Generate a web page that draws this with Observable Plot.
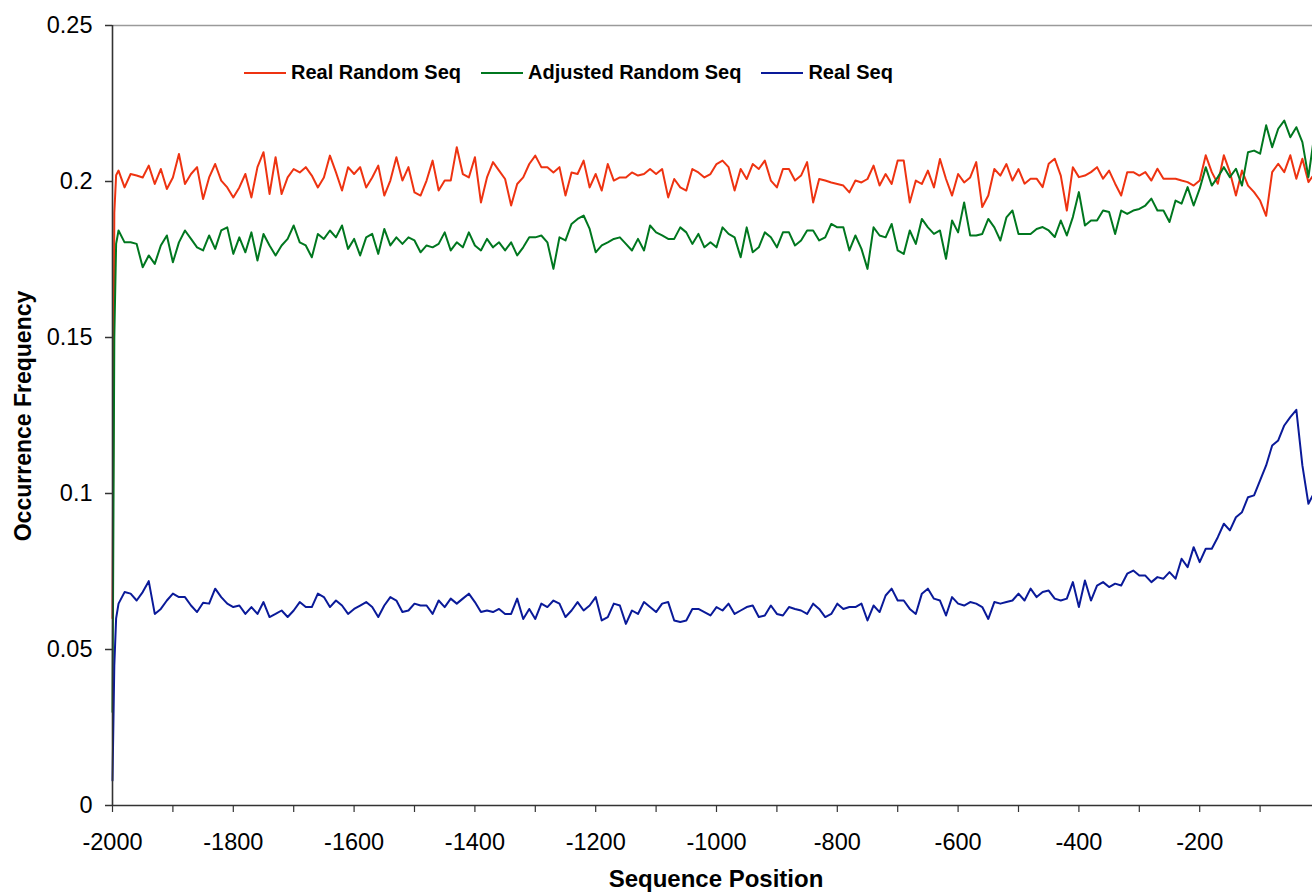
<!DOCTYPE html>
<html><head><meta charset="utf-8">
<script src="https://cdn.jsdelivr.net/npm/d3@7"></script>
<script src="https://cdn.jsdelivr.net/npm/@observablehq/plot@0.6"></script>
<style>
html,body{margin:0;padding:0;background:#fff;overflow:hidden;width:1312px;height:894px}
#wrap{position:relative;width:1312px;height:894px;overflow:hidden}
#wrap svg{position:absolute;left:0;top:0;max-width:none !important;width:1320px !important;height:894px !important}
#legend{position:absolute;left:244px;top:61px;display:flex;align-items:center;font:bold 20px "Liberation Sans",Arial,sans-serif;color:#000;white-space:nowrap}
.item{display:flex;align-items:center;margin-right:20px}
.swatch{width:42px;height:2px;margin-right:5px}
</style></head><body><div id="wrap"><div id="legend"></div></div>
<script>
const seriesNames = ["Real Random Seq", "Adjusted Random Seq", "Real Seq"];
const seriesColors = ["#EE3311", "#00771F", "#0A1A99"];

const xTicks = [-2000,-1900,-1800,-1700,-1600,-1500,-1400,-1300,-1200,-1100,-1000,-900,-800,-700,-600,-500,-400,-300,-200,-100];
const xTickLabels = ["-2000","","-1800","","-1600","","-1400","","-1200","","-1000","","-800","","-600","","-400","","-200",""];
const yTicks = [0, 0.05, 0.1, 0.15, 0.2, 0.25];
const yTickLabels = ["0", "0.05", "0.1", "0.15", "0.2", "0.25"];

// first few positions (steep start) and the regular grid from -1990 to 0 every 10
const startPositions = [-2000, -1997, -1994];
const gridPositions = d3.range(-1990, 1, 10);

const realRandomStart = [0.06, 0.19, 0.202];
const adjustedRandomStart = [0.03, 0.15, 0.18];
const realSeqStart = [0.008, 0.045, 0.060];

const realRandom = [
0.2035,0.1981,0.2024,0.2019,0.2013,0.2051,0.1992,0.2040,0.1976,0.2013,
0.2088,0.1992,0.2024,0.2046,0.1944,0.2013,0.2056,0.2003,0.1981,0.1949,
0.1981,0.2024,0.1949,0.2046,0.2094,0.1960,0.2078,0.1960,0.2013,0.2040,
0.2029,0.2046,0.2019,0.1981,0.2013,0.2083,0.2029,0.1971,0.2046,0.2024,
0.2046,0.1981,0.2013,0.2051,0.1955,0.2003,0.2078,0.2003,0.2046,0.1965,
0.1955,0.2003,0.2067,0.1971,0.2003,0.2003,0.2110,0.2024,0.2013,0.2078,
0.1933,0.2013,0.2062,0.2035,0.2008,0.1923,0.1992,0.2013,0.2056,0.2083,
0.2046,0.2046,0.2029,0.2046,0.1955,0.2029,0.2024,0.2067,0.1981,0.2024,
0.1971,0.2056,0.2003,0.2013,0.2013,0.2029,0.2019,0.2024,0.2040,0.2024,
0.2040,0.1949,0.2008,0.1981,0.1971,0.2040,0.2029,0.2013,0.2024,0.2056,
0.2067,0.2046,0.1971,0.2040,0.2008,0.2056,0.2040,0.2067,0.2003,0.1981,
0.2040,0.2040,0.2003,0.2019,0.2062,0.1933,0.2008,0.2003,0.1997,0.1992,
0.1987,0.1965,0.2003,0.1997,0.2008,0.2051,0.1987,0.2024,0.1992,0.2067,
0.2067,0.1933,0.2003,0.1992,0.2035,0.1981,0.2072,0.2008,0.1955,0.2024,
0.1997,0.2013,0.2062,0.1918,0.1955,0.2040,0.2019,0.2056,0.2003,0.2040,
0.1993,0.2009,0.2009,0.1982,0.2057,0.2073,0.2019,0.1907,0.2046,0.2014,
0.2019,0.2030,0.2046,0.2009,0.2035,0.1993,0.1955,0.2030,0.2030,0.2019,
0.2030,0.2003,0.2041,0.2009,0.2009,0.2009,0.2003,0.1998,0.1987,0.2003,
0.2084,0.2030,0.1993,0.2084,0.2030,0.1955,0.2035,0.1987,0.1966,0.1939,
0.1890,0.2030,0.2057,0.2030,0.2084,0.2009,0.2073,0.1998,0.2025,0.1960];

const adjustedRandom = [
0.1843,0.1805,0.1805,0.1800,0.1725,0.1763,0.1736,0.1795,0.1827,0.1741,
0.1805,0.1843,0.1816,0.1789,0.1779,0.1827,0.1784,0.1843,0.1853,0.1768,
0.1821,0.1773,0.1837,0.1747,0.1832,0.1795,0.1763,0.1795,0.1816,0.1859,
0.1805,0.1795,0.1757,0.1832,0.1816,0.1843,0.1821,0.1859,0.1784,0.1816,
0.1763,0.1821,0.1832,0.1768,0.1848,0.1795,0.1821,0.1800,0.1821,0.1811,
0.1773,0.1795,0.1789,0.1800,0.1837,0.1779,0.1805,0.1789,0.1837,0.1795,
0.1779,0.1816,0.1789,0.1805,0.1779,0.1805,0.1763,0.1789,0.1821,0.1821,
0.1827,0.1805,0.1720,0.1821,0.1811,0.1864,0.1880,0.1891,0.1848,0.1773,
0.1795,0.1805,0.1816,0.1821,0.1800,0.1779,0.1816,0.1779,0.1859,0.1837,
0.1827,0.1816,0.1816,0.1853,0.1837,0.1800,0.1832,0.1789,0.1805,0.1789,
0.1853,0.1832,0.1821,0.1757,0.1853,0.1773,0.1789,0.1837,0.1821,0.1789,
0.1837,0.1837,0.1795,0.1811,0.1843,0.1843,0.1811,0.1821,0.1864,0.1853,
0.1853,0.1779,0.1827,0.1784,0.1720,0.1853,0.1827,0.1821,0.1864,0.1779,
0.1768,0.1843,0.1800,0.1880,0.1853,0.1832,0.1843,0.1752,0.1875,0.1837,
0.1933,0.1827,0.1827,0.1832,0.1880,0.1853,0.1811,0.1885,0.1907,0.1832,
0.1832,0.1832,0.1848,0.1854,0.1843,0.1822,0.1875,0.1827,0.1886,0.1966,
0.1859,0.1875,0.1875,0.1907,0.1902,0.1832,0.1907,0.1896,0.1907,0.1912,
0.1923,0.1945,0.1907,0.1907,0.1870,0.1939,0.1929,0.1982,0.1923,0.1977,
0.2046,0.1987,0.2014,0.2046,0.2014,0.2041,0.1987,0.2094,0.2099,0.2089,
0.2180,0.2110,0.2169,0.2195,0.2142,0.2174,0.2126,0.2014,0.2153,0.2121];

const realSeq = [
0.0647,0.0684,0.0679,0.0657,0.0684,0.0719,0.0614,0.0630,0.0657,0.0679,
0.0668,0.0668,0.0641,0.0620,0.0650,0.0647,0.0695,0.0668,0.0647,0.0636,
0.0641,0.0614,0.0636,0.0614,0.0652,0.0604,0.0614,0.0625,0.0604,0.0625,
0.0652,0.0636,0.0636,0.0679,0.0668,0.0636,0.0657,0.0641,0.0614,0.0630,
0.0641,0.0652,0.0636,0.0604,0.0641,0.0668,0.0657,0.0620,0.0625,0.0647,
0.0641,0.0641,0.0614,0.0657,0.0636,0.0663,0.0647,0.0663,0.0679,0.0652,
0.0620,0.0625,0.0620,0.0630,0.0614,0.0614,0.0663,0.0598,0.0630,0.0598,
0.0647,0.0636,0.0657,0.0647,0.0604,0.0625,0.0652,0.0625,0.0641,0.0668,
0.0593,0.0604,0.0647,0.0641,0.0582,0.0625,0.0614,0.0652,0.0636,0.0620,
0.0647,0.0652,0.0593,0.0588,0.0593,0.0630,0.0630,0.0620,0.0609,0.0636,
0.0625,0.0647,0.0614,0.0625,0.0636,0.0641,0.0604,0.0609,0.0641,0.0614,
0.0609,0.0636,0.0630,0.0625,0.0614,0.0647,0.0630,0.0604,0.0614,0.0647,
0.0630,0.0636,0.0636,0.0647,0.0593,0.0641,0.0620,0.0673,0.0695,0.0657,
0.0657,0.0630,0.0614,0.0679,0.0695,0.0663,0.0657,0.0609,0.0668,0.0647,
0.0641,0.0652,0.0647,0.0636,0.0598,0.0652,0.0647,0.0652,0.0657,0.0679,
0.0657,0.0695,0.0668,0.0684,0.0689,0.0663,0.0657,0.0663,0.0716,0.0636,
0.0721,0.0657,0.0705,0.0716,0.0700,0.0711,0.0705,0.0743,0.0753,0.0737,
0.0737,0.0716,0.0732,0.0727,0.0748,0.0727,0.0791,0.0764,0.0828,0.0780,
0.0823,0.0823,0.0860,0.0903,0.0882,0.0924,0.0940,0.0988,0.0994,0.1042,
0.1090,0.1154,0.1170,0.1218,0.1245,0.1268,0.1090,0.0967,0.1004,0.0988];

function build(name, start, grid) {
  return startPositions.map((p, i) => ({pos: p, value: start[i], series: name}))
    .concat(grid.map((v, i) => ({pos: gridPositions[i], value: v, series: name})));
}
const data = [
  ...build(seriesNames[0], realRandomStart, realRandom),
  ...build(seriesNames[1], adjustedRandomStart, adjustedRandom),
  ...build(seriesNames[2], realSeqStart, realSeq)
];

const font = '"Liberation Sans", Arial, Helvetica, sans-serif';
const chart = Plot.plot({
  width: 1320, height: 894,
  marginLeft: 112, marginRight: 0, marginTop: 25, marginBottom: 89,
  x: {domain: [-2000, 0]},
  y: {domain: [0, 0.25]},
  color: {domain: seriesNames, range: seriesColors},
  style: {fontFamily: font, fontSize: "23.5px", color: "#000", background: "#fff", overflow: "visible", maxWidth: "none"},
  marks: [
    Plot.ruleY([0.25], {stroke: "#9a9a9a", strokeWidth: 1.5}),
    Plot.lineY(data, {x: "pos", y: "value", z: "series", stroke: "series", strokeWidth: 2, curve: "linear"}),
    Plot.ruleX([-2000], {stroke: "#333", strokeWidth: 1.6}),
    Plot.ruleY([0], {stroke: "#333", strokeWidth: 1.6}),
    Plot.axisY({ticks: yTicks, tickSize: 7, tickPadding: 13, stroke: "#333", strokeWidth: 1.5,
      tickFormat: d => yTickLabels[yTicks.indexOf(d)], label: null, fill: "#000"}),
    Plot.axisX({ticks: xTicks, tickSize: 7, tickPadding: 21, stroke: "#333", strokeWidth: 1.2,
      tickFormat: d => xTickLabels[xTicks.indexOf(d)], label: null, fill: "#000"})
  ]
});
const svg = d3.select(chart);
svg.append("text").attr("x", 716).attr("y", 887).attr("text-anchor", "middle")
  .attr("font-family", font).attr("font-weight", "bold").attr("font-size", 24).attr("fill", "#000")
  .text("Sequence Position");
svg.append("text").attr("transform", "translate(31,416) rotate(-90)").attr("text-anchor", "middle")
  .attr("font-family", font).attr("font-weight", "bold").attr("font-size", 23).attr("fill", "#000")
  .text("Occurrence Frequency");

const wrap = document.getElementById("wrap");
wrap.insertBefore(chart, wrap.firstChild);

const legend = d3.select("#legend");
seriesNames.forEach((n, i) => {
  const it = legend.append("div").attr("class", "item");
  it.append("div").attr("class", "swatch").style("background", seriesColors[i]);
  it.append("span").text(n);
});
</script></body></html>
